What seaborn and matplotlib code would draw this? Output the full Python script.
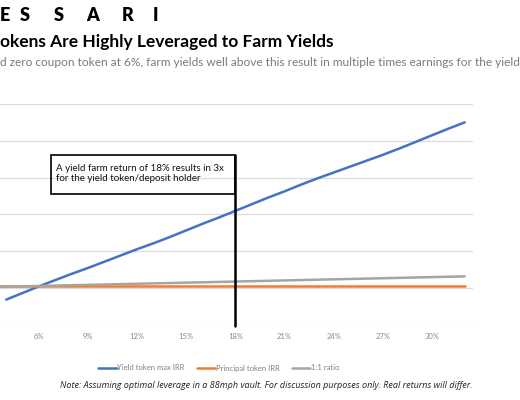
import pandas as pd
import numpy as np
import matplotlib
matplotlib.use("Agg")
import matplotlib.pyplot as plt
import seaborn as sns
from matplotlib.patches import Rectangle

# --- data (values in %) ---
farm_yield = [3, 4, 5, 6, 7, 8, 9, 10, 11, 12, 13, 14, 15, 16, 17,
              18, 19, 20, 21, 22, 23, 24, 25, 26, 27, 28, 29, 30, 31, 32]
yield_token_irr = [np.nan, -31, -13, 5, 22, 39, 55, 72, 89, 106, 122, 139, 157, 175, 192,
                   210, 228, 246, 263, 281, 298, 314, 330, 346, 362, 379, 397, 415, 433, 450]
principal_token_irr = [6.0] * len(farm_yield)
ratio_1_1 = [3, 4, 5, 6, 7, 8, 9, 10, 11, 12, 13, 14, 15, 16, 17,
             18, 19, 20, 21, 22, 23, 24, 25, 26, 27, 28, 29, 30, 31, 32]
series_names = ["Yield token max IRR", "Principal token IRR", "1:1 ratio"]
x_ticks = [6, 9, 12, 15, 18, 21, 24, 27, 30]
x_tick_labels = ["6%", "9%", "12%", "15%", "18%", "21%", "24%", "27%", "30%"]
y_grid = [-100, 0, 100, 200, 300, 400, 500]
highlight_yield = 18

df = pd.concat([
    pd.DataFrame({"yield": farm_yield, "irr": yield_token_irr, "series": series_names[0]}),
    pd.DataFrame({"yield": farm_yield, "irr": principal_token_irr, "series": series_names[1]}),
    pd.DataFrame({"yield": farm_yield, "irr": ratio_1_1, "series": series_names[2]}),
]).dropna()

palette = {series_names[0]: "#4472C4", series_names[1]: "#ED7D31", series_names[2]: "#A5A5A5"}

sns.set_theme(style="white")
plt.rcParams["font.family"] = ["Lato", "DejaVu Sans"]

W, H = 520, 400
fig = plt.figure(figsize=(W / 100, H / 100), dpi=100)
# plot area: its left part (y labels) is cropped off in the reference
ax = fig.add_axes([-18.3 / W, 75 / H, 491.2 / W, 221 / H])

sns.lineplot(data=df, x="yield", y="irr", hue="series", hue_order=series_names,
             palette=palette, linewidth=1.8, ax=ax)

ax.set_xlim(2.5, 32.5)
ax.set_ylim(-100, 500)
ax.set_xticks(x_ticks)
ax.set_xticklabels(x_tick_labels, fontsize=5.5, color="#8a8a8a")
ax.set_yticks(y_grid)
ax.set_yticklabels([])
ax.tick_params(length=0, axis="x", pad=6)
ax.tick_params(length=0, axis="y")
ax.set_xlabel("")
ax.set_ylabel("")
for s in ax.spines.values():
    s.set_visible(False)
ax.yaxis.grid(True, color="#dcdcdc", linewidth=0.9)
ax.set_axisbelow(True)

# annotation: vertical marker and box
ax.plot([highlight_yield, highlight_yield], [-103, 361], color="black", lw=1.8,
        clip_on=False, zorder=5)
ax.add_patch(Rectangle((6.71, 255), highlight_yield - 6.71, 106, fill=False,
                       edgecolor="black", lw=1.2, zorder=5, clip_on=False))
ax.text(7.05, 336, "A yield farm return of 18% results in 3x\nfor the yield token/deposit holder",
        fontsize=7.0, va="top", ha="left", linespacing=1.1, color="#111111", zorder=6)

handles, labels = ax.get_legend_handles_labels()
ax.get_legend().remove()
fig.legend(handles, labels, loc="center", bbox_to_anchor=(219 / W, 1 - 368 / H),
           ncol=3, frameon=False, fontsize=5.5, handlelength=2.4, handletextpad=0.1,
           columnspacing=1.6, labelcolor="#7f7f7f")

# header (logo letters spaced out)
logo_letters = ["E", "S", "S", "A", "R", "I"]
logo_x = [0, 20, 54, 86, 122, 153]
for ch, lx in zip(logo_letters, logo_x):
    fig.text(lx / W, 1 - 21 / H, ch, fontsize=13, fontweight="heavy", ha="left",
             va="baseline", color="black", family=["Lato", "DejaVu Sans"])

fig.text(0, 1 - 47 / H, "okens Are Highly Leveraged to Farm Yields",
         fontsize=12.5, fontweight="bold", ha="left", va="baseline", color="black")
fig.text(0, 1 - 66 / H,
         "d zero coupon token at 6%, farm yields well above this result in multiple times earnings for the yield",
         fontsize=8.55, ha="left", va="baseline", color="#7a7a7a")

fig.text(266 / W, 1 - 388 / H,
         "Note: Assuming optimal leverage in a 88mph vault. For discussion purposes only. Real returns will differ.",
         fontsize=6.5, style="italic", ha="center", va="baseline", color="#222222",
         family=["Open Sans", "DejaVu Sans"])

fig.savefig("out.png", dpi=100)
